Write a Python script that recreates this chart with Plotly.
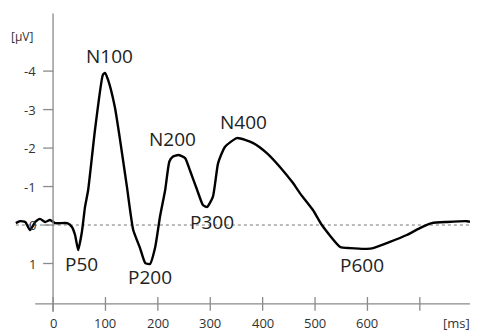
import plotly.graph_objects as go

# ERP waveform (time in ms, amplitude in microvolts; negative plotted upward)
time_ms = [-71, -63, -53, -44, -34, -25, -15, -6, 4, 27, 36, 42, 48, 55, 61, 67, 80, 95, 99,
           105, 118, 128, 141, 153, 166, 176, 185, 195, 204, 214, 222, 229, 239, 252, 261,
           275, 286, 294, 305, 315, 328, 351, 382, 408, 433, 458, 471, 496, 513, 548, 567,
           599, 611, 643, 675, 700, 723, 752, 790, 811]
amplitude_uv = [-0.05, -0.1, -0.08, 0.13, -0.08, -0.16, -0.08, -0.13, -0.05, -0.05, 0.05, 0.26,
                0.65, 0.18, -0.47, -0.91, -2.47, -3.9, -3.95, -3.77, -3.06, -2.2, -0.99, 0.13,
                0.6, 0.99, 1.01, 0.57, -0.21, -0.91, -1.65, -1.78, -1.82, -1.74, -1.43, -0.91,
                -0.52, -0.47, -0.73, -1.61, -2.03, -2.26, -2.13, -1.87, -1.51, -1.09, -0.83,
                -0.39, 0.0, 0.57, 0.6, 0.62, 0.6, 0.44, 0.26, 0.08, -0.05, -0.08, -0.1, -0.05]

components = ["N100", "N200", "N400", "P50", "P200", "P300", "P600"]
peak_ms = [99, 239, 351, 48, 181, 290, 599]
peak_uv = [-3.95, -1.82, -2.26, 0.65, 1.01, -0.47, 0.62]

x_ticks = [0, 100, 200, 300, 400, 500, 600, 700]
x_tick_labels = ["0", "100", "200", "300", "400", "500", "600", ""]
y_ticks = [-4, -3, -2, -1, 0, 1]
y_tick_labels = ["-4", "-3", "-2", "-1", "0", "1"]

# label pixel offsets (style)
label_shift = {"N100": (5, 17), "N200": (-6, 16), "N400": (7, 16),
               "P50": (3, -14), "P200": (2, -13), "P300": (7, -15), "P600": (-5, -16)}

X_RANGE = [-86, 811]
Y_RANGE = [2.78, -5.64]
X_AXIS_V = 2.05
axis_color = "#8a8a8a"
text_color = "#333333"

fig = go.Figure()
fig.add_trace(go.Scatter(x=time_ms, y=amplitude_uv, mode="lines",
                         line=dict(color="black", width=2.4, shape="spline", smoothing=0.5),
                         hoverinfo="skip", showlegend=False))

shapes = []
shapes.append(dict(type="line", xref="x", yref="y", x0=-71, x1=811, y0=0, y1=0,
                   line=dict(color="#777777", width=1, dash="dot"), layer="below"))
shapes.append(dict(type="line", xref="x", yref="y", x0=0, x1=0, y0=-5.5, y1=2.26,
                   line=dict(color=axis_color, width=1.3)))
shapes.append(dict(type="line", xref="x", yref="y", x0=-34, x1=811, y0=X_AXIS_V, y1=X_AXIS_V,
                   line=dict(color=axis_color, width=1.3)))
for t in x_ticks:
    shapes.append(dict(type="line", xref="x", yref="y", x0=t, x1=t, y0=1.87, y1=2.23,
                       line=dict(color=axis_color, width=1.3)))
for t in y_ticks:
    shapes.append(dict(type="line", xref="x", yref="y", x0=-19, x1=0, y0=t, y1=t,
                       line=dict(color=axis_color, width=1.3)))

annotations = []
tick_font = dict(family="Open Sans, Noto Sans, sans-serif", size=13, color=text_color)
for t, lab in zip(x_ticks, x_tick_labels):
    if lab:
        annotations.append(dict(x=t, y=2.55, xref="x", yref="y", text=lab, showarrow=False,
                                font=tick_font, xanchor="center", yanchor="middle"))
for t, lab in zip(y_ticks, y_tick_labels):
    annotations.append(dict(x=-29, y=t, xref="x", yref="y", text=lab, showarrow=False,
                            font=tick_font, xanchor="right", yanchor="middle"))
annotations.append(dict(x=-84, y=-4.9, xref="x", yref="y", text="[µV]", showarrow=False,
                        font=dict(family="Open Sans, Noto Sans, sans-serif", size=12,
                                  color=text_color),
                        xanchor="left", yanchor="middle"))
annotations.append(dict(x=770, y=2.55, xref="x", yref="y", text="[ms]", showarrow=False,
                        font=tick_font, xanchor="center", yanchor="middle"))

label_font = dict(family="Open Sans, Noto Sans, sans-serif", size=19, color="#222222")
for name, xm, yv in zip(components, peak_ms, peak_uv):
    dx, dy = label_shift[name]
    annotations.append(dict(x=xm, y=yv, xref="x", yref="y", text=name, showarrow=False,
                            font=label_font, xanchor="center", yanchor="middle",
                            xshift=dx, yshift=dy))

fig.update_layout(
    width=470, height=324,
    margin=dict(l=0, r=0, t=0, b=0),
    paper_bgcolor="white", plot_bgcolor="white",
    xaxis=dict(range=X_RANGE, visible=False, fixedrange=True),
    yaxis=dict(range=Y_RANGE, visible=False, fixedrange=True),
    shapes=shapes, annotations=annotations,
)

fig.write_html("out.html")
